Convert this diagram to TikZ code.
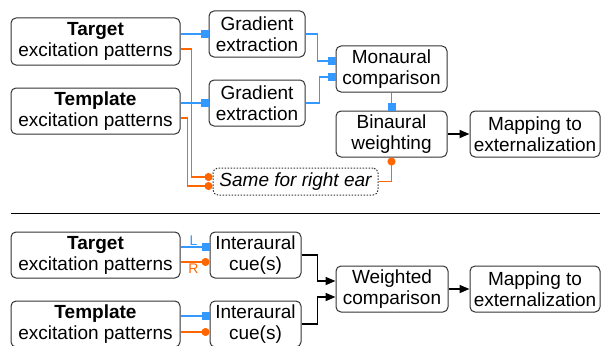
\documentclass[tikz,border=0pt]{standalone}
\usepackage{fontspec}
\setmainfont{Liberation Sans}
\usetikzlibrary{arrows.meta}
\definecolor{leftblue}{RGB}{51, 153, 255}
\definecolor{rightorange}{RGB}{255, 102, 0}
\definecolor{edge}{RGB}{50, 50, 50}

\begin{document}
\begin{tikzpicture}[
    x=1pt, y=-1pt,
    box/.style={
      rectangle, draw=edge, rounded corners=5pt, line width=1pt,
      inner sep=0pt, align=center,
      font=\fontsize{19}{21}\selectfont
    },
    blu/.style={-{Square[length=8pt, width=8pt]}, line width=1.7pt, color=leftblue},
    org/.style={-{Circle[length=8pt]}, line width=1.7pt, color=rightorange},
    arr/.style={-{Stealth[length=10pt, width=8pt, inset=0pt]}, line width=1.7pt, color=black},
    ear/.style={font=\fontsize{14}{14}\selectfont, inner sep=1pt}
  ]
  \useasboundingbox (0,0) rectangle (601,345);

  % ── Top: monaural pipeline ──────────────────────────────────────
  \node[box, minimum width=169pt, minimum height=47pt] (tgtA)  at (95.5, 41.5) {\textbf{Target}\\excitation patterns};
  \node[box, minimum width=169pt, minimum height=46pt] (tmpA)  at (95.5, 111)  {\textbf{Template}\\excitation patterns};
  \node[box, minimum width=96pt,  minimum height=46pt] (gradA) at (257, 34)    {Gradient\\extraction};
  \node[box, minimum width=96pt,  minimum height=46pt] (gradB) at (257, 103)   {Gradient\\extraction};
  \node[box, minimum width=111pt, minimum height=46pt] (mono)  at (391.5, 69)  {Monaural\\comparison};
  \node[box, minimum width=111pt, minimum height=46pt] (bin)   at (391.5, 134) {Binaural\\weighting};
  \node[box, minimum width=130pt, minimum height=46pt] (mapA)  at (535, 134)   {Mapping to\\externalization};
  \node[box, dash pattern=on 1.5pt off 1.5pt, line width=1pt, minimum width=165pt, minimum height=27pt,
        font=\fontsize{19}{21}\selectfont\itshape] (same) at (295.5, 181.5) {Same for right ear};

  \draw[blu] (tgtA.east |- gradA.west) -- (gradA.west);
  \draw[blu] (tmpA.east |- gradB.west) -- (gradB.west);
  \draw[org] ([yshift=-7.5pt]tgtA.east) -- ++(11pt,0) |- ([yshift=4.5pt]same.west);
  \draw[org] ([yshift=-7pt]tmpA.east)   -- ++(7pt,0)  |- ([yshift=-4.5pt]same.west);
  \draw[blu] (gradA.east) -- ++(12pt,0) |- ([yshift=8pt]mono.west);
  \draw[blu] (gradB.east) -- ++(14pt,0) |- ([yshift=-8pt]mono.west);
  \draw[blu] (mono.south) -- (bin.north);
  \draw[org] (same.east) -| (bin.south);
  \draw[arr] (bin.east) -- (mapA.west);

  % ── Separator ──────────────────────────────────────────────────
  \draw[line width=1pt] (11, 213) -- (600, 213);

  % ── Bottom: binaural pipeline ──────────────────────────────────
  \node[box, minimum width=169pt, minimum height=46pt] (tgtB) at (95.5, 255) {\textbf{Target}\\excitation patterns};
  \node[box, minimum width=169pt, minimum height=46pt] (tmpB) at (95.5, 324) {\textbf{Template}\\excitation patterns};
  \node[box, minimum width=91pt,  minimum height=46pt] (cueA) at (255.5, 255) {Interaural\\cue(s)};
  \node[box, minimum width=91pt,  minimum height=46pt] (cueB) at (255.5, 324) {Interaural\\cue(s)};
  \node[box, minimum width=112pt, minimum height=46pt] (wcmp) at (392, 289)   {Weighted\\comparison};
  \node[box, minimum width=130pt, minimum height=46pt] (mapB) at (535, 289)   {Mapping to\\externalization};

  \draw[blu] ([yshift=8pt]tgtB.east) -- ([yshift=8pt]cueA.west)
    node[ear, pos=0.45, above, color=leftblue] {L};
  \draw[org] ([yshift=-7pt]tgtB.east) -- ([yshift=-7pt]cueA.west)
    node[ear, pos=0.45, below, color=rightorange] {R};
  \draw[blu] ([yshift=8pt]tmpB.east)  -- ([yshift=8pt]cueB.west);
  \draw[org] ([yshift=-8pt]tmpB.east) -- ([yshift=-8pt]cueB.west);
  \draw[arr] (cueA.east) -- ++(16pt,0) |- ([yshift=8pt]wcmp.west);
  \draw[arr] (cueB.east) -- ++(16pt,0) |- ([yshift=-8pt]wcmp.west);
  \draw[arr] (wcmp.east) -- (mapB.west);

\end{tikzpicture}
\end{document}
